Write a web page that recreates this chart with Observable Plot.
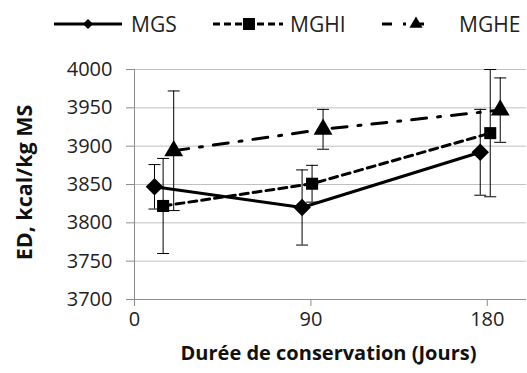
<!DOCTYPE html>
<html><head><meta charset="utf-8">
<script src="https://cdn.jsdelivr.net/npm/d3@7"></script>
<script src="https://cdn.jsdelivr.net/npm/@observablehq/plot@0.6"></script>
<style>
body{margin:0;background:#fff;font-family:"Open Sans",sans-serif;}
#wrap{position:relative;width:527px;height:373px;overflow:hidden;background:#fff}
#legend{position:absolute;left:0;top:0}
#chart{position:absolute;left:0;top:0}
</style></head><body>
<div id="wrap"><div id="chart"></div><svg id="legend" width="527" height="50"></svg></div>
<script>
// ---- data ----
const series = ["MGS", "MGHI", "MGHE"];
const days = [0, 90, 180];                       // storage duration groups
const xMGS  = [10.2, 85.5, 176.4];              // plotted x positions (offset per series)
const xMGHI = [14.6, 90.6, 181.5];
const xMGHE = [20.0, 96.2, 186.6];
const edMGS  = [3847, 3820, 3892];
const edMGHI = [3822, 3851, 3917];
const edMGHE = [3894, 3922, 3947];
const errMGS  = [29, 49, 56];
const errMGHI = [62, 24, 83];
const errMGHE = [78, 26, 42];
const yTicks = [3700, 3750, 3800, 3850, 3900, 3950, 4000];
const xTicks = [0, 90, 180];
const xTitle = "Durée de conservation (Jours)";
const yTitle = "ED, kcal/kg MS";

const xPos = [xMGS, xMGHI, xMGHE];
const ed = [edMGS, edMGHI, edMGHE];
const err = [errMGS, errMGHI, errMGHE];
const rows = series.flatMap((s, i) => days.map((d, j) => ({
  series: s, day: d, x: xPos[i][j], y: ed[i][j], lo: ed[i][j] - err[i][j], hi: ed[i][j] + err[i][j]
})));

const dash = {MGS: null, MGHI: "8,5", MGHE: "15,11,3,11"};
const capSymbol = {draw(ctx) { ctx.moveTo(-6, 0); ctx.lineTo(6, 0); }};
const font = "'Open Sans', sans-serif";

const marks = [
  Plot.gridY(yTicks, {stroke: "#c0c0c0", strokeOpacity: 1, strokeWidth: 1}),
  Plot.ruleX([0], {stroke: "#8c8c8c", strokeWidth: 1}),
  Plot.ruleY([3700], {stroke: "#8c8c8c", strokeWidth: 1}),
  Plot.axisY(yTicks, {tickSize: 8, tickPadding: 14, fontSize: 20, stroke: "#8c8c8c", fill: "#222", label: null, tickFormat: d => String(d)}),
  Plot.axisX(xTicks, {tickSize: 7, tickPadding: 5, fontSize: 20, stroke: "#8c8c8c", fill: "#222", label: null, tickFormat: d => String(d)}),
  Plot.text([xTitle], {frameAnchor: "bottom", textAnchor: "middle", dx: -2, dy: 60, fontSize: 20, fontWeight: "bold", fill: "#111"}),
  Plot.text([yTitle], {frameAnchor: "left", textAnchor: "middle", dx: -109, dy: -2, rotate: -90, fontSize: 21.5, fontWeight: "bold", fill: "#111"})
];
for (const s of series) {
  const d = rows.filter(r => r.series === s);
  marks.push(Plot.line(d, {x: "x", y: "y", stroke: "#000", strokeWidth: 3, strokeDasharray: dash[s]}));
}
marks.push(
  Plot.ruleX(rows, {x: "x", y1: "lo", y2: "hi", stroke: "#000", strokeWidth: 1}),
  Plot.dot(rows, {x: "x", y: "lo", symbol: capSymbol, stroke: "#000", strokeWidth: 1, fill: "none", r: 6}),
  Plot.dot(rows, {x: "x", y: "hi", symbol: capSymbol, stroke: "#000", strokeWidth: 1, fill: "none", r: 6}),
  Plot.dot(rows.filter(r => r.series === "MGS"), {x: "x", y: "y", symbol: "square", rotate: 45, r: 7, fill: "#000", stroke: "none"}),
  Plot.dot(rows.filter(r => r.series === "MGHI"), {x: "x", y: "y", symbol: "square", r: 6.8, fill: "#000", stroke: "none"}),
  Plot.dot(rows.filter(r => r.series === "MGHE"), {x: "x", y: "y", symbol: "triangle", r: 7, fill: "#000", stroke: "none"})
);

const chart = Plot.plot({
  width: 527, height: 373,
  marginTop: 69, marginBottom: 74, marginLeft: 134, marginRight: 1,
  style: {fontFamily: font, background: "#fff"},
  x: {domain: [0, 200]},
  y: {domain: [3700, 4000]},
  marks
});
document.getElementById("chart").appendChild(chart);

// ---- legend ----
const lg = d3.select("#legend");
const items = [
  {name: "MGS", x1: 54, x2: 122, mx: 88, tx: 131, dash: null, sym: d3.symbolSquare, size: 50, rot: 45},
  {name: "MGHI", x1: 213, x2: 283, mx: 249, tx: 290, dash: "7,4", sym: d3.symbolSquare, size: 144, rot: 0},
  {name: "MGHE", x1: 382, x2: 428, mx: 416, tx: 459, dash: "10,11,3,8", sym: d3.symbolTriangle, size: 75, rot: 0}
];
for (const it of items) {
  lg.append("line").attr("x1", it.x1).attr("x2", it.x2).attr("y1", 24).attr("y2", 24)
    .attr("stroke", "#000").attr("stroke-width", 3).attr("stroke-dasharray", it.dash);
  lg.append("path").attr("d", d3.symbol(it.sym, it.size)())
    .attr("transform", `translate(${it.mx},24) rotate(${it.rot})`).attr("fill", "#000");
  lg.append("text").attr("x", it.tx).attr("y", 24).attr("dy", "0.36em")
    .attr("font-size", 21).attr("font-family", font).attr("fill", "#222").text(it.name);
}
</script>
</body></html>
